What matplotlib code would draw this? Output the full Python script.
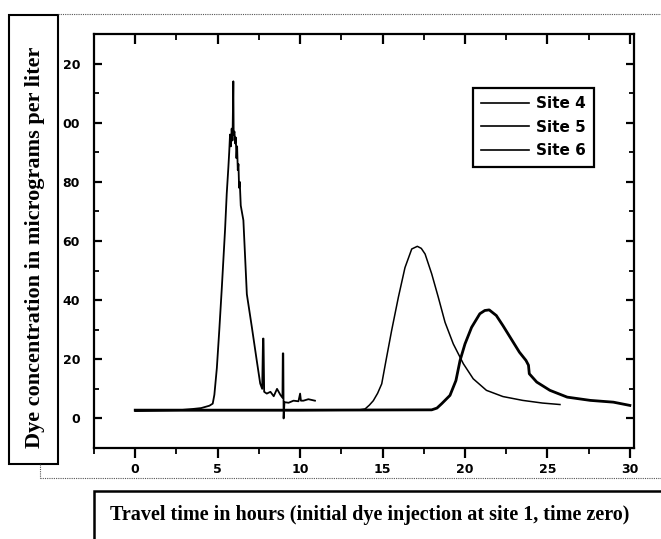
import matplotlib
matplotlib.use("Agg")
import matplotlib.pyplot as plt
from matplotlib.patches import Rectangle
from matplotlib.lines import Line2D
from matplotlib.ticker import MultipleLocator, FixedLocator

# ---------------- data ----------------
site4_x = [0, 2.7, 3.5, 4.0, 4.5, 4.7, 4.8, 4.95, 5.1, 5.25, 5.45, 5.55, 5.65, 5.7, 5.75, 5.8, 5.85,
           5.9, 5.95, 5.97, 6.02, 6.06, 6.1, 6.14, 6.18, 6.22, 6.26, 6.3, 6.34, 6.4, 6.56, 6.77, 7.07,
           7.37, 7.58, 7.7, 7.75, 7.78, 7.82, 7.98, 8.2, 8.4, 8.6, 8.8, 8.93, 8.95, 8.98, 9.0, 9.05,
           9.3, 9.6, 9.9, 10.0, 10.05, 10.2, 10.5, 10.9]
site4_y = [2.5, 2.8, 3.2, 3.5, 4.3, 5.0, 8.0, 17, 30, 44, 64, 76, 85, 90, 96, 92, 98,
           94, 114, 96, 97, 93, 95, 88, 92, 84, 86, 78, 80, 72, 67, 42, 31,
           19.6, 11.8, 10, 27, 27, 9, 8.4, 9, 7.5, 10, 8, 7, 22, 22, 0, 5.5,
           5.3, 6, 5.8, 8.4, 6, 6, 6.5, 6]

site5_x = [0, 5, 10, 13.5, 13.94, 14.2, 14.44, 14.7, 14.95, 15.21, 15.55, 15.96, 16.36, 16.77, 17.11,
           17.35, 17.58, 17.98, 18.38, 18.79, 19.29, 19.9, 20.5, 21.3, 22.3, 23.5, 24.7, 25.76]
site5_y = [2.7, 2.7, 2.7, 2.8, 3.2, 4.5, 6, 8.5, 11.7, 19.6, 29.7, 41, 51, 57.3, 58.2,
           57.5, 55.6, 48.9, 41, 32.5, 25.2, 18.5, 13.4, 9.5, 7.4, 6.1, 5.2, 4.7]

site6_x = [0, 10, 17.98, 18.3, 18.59, 19.09, 19.45, 19.7, 20.0, 20.4, 20.9, 21.2, 21.47, 21.9, 22.3,
           22.8, 23.3, 23.7, 23.85, 23.9, 24.35, 25.15, 26.2, 27.6, 29.0, 30.0]
site6_y = [2.8, 2.8, 2.9, 3.5, 5, 7.8, 12.8, 19.6, 25.2, 30.8, 35.4, 36.5, 36.7, 34.8, 31.4,
           26.9, 22.4, 19.6, 18, 15.1, 12.3, 9.5, 7.2, 6.1, 5.5, 4.4]

series_labels = ["Site 4", "Site 5", "Site 6"]
x_ticks = [0, 5, 10, 15, 20, 25, 30]
x_ticklabels = ["0", "5", "10", "15", "20", "25", "30"]
y_ticks = [0, 20, 40, 60, 80, 100, 120]
y_ticklabels = ["0", "20", "40", "60", "80", "00", "20"]
x_title = "Travel time in hours (initial dye injection at site 1, time zero)"
y_title = "Dye concentration in micrograms per liter"

# ---------------- figure ----------------
W, H = 661, 539
fig = plt.figure(figsize=(W / 100, H / 100), dpi=100)


def fx(x):
    return x / W


def fy(y):
    return 1 - y / H


ax_l, ax_r, ax_t, ax_b = 94, 634, 34, 448
ax = fig.add_axes([fx(ax_l), fy(ax_b), (ax_r - ax_l) / W, (ax_b - ax_t) / H])

ax.plot(site4_x, site4_y, color="black", lw=1.3, label=series_labels[0])
ax.plot(site5_x, site5_y, color="black", lw=1.1, label=series_labels[1])
ax.plot(site6_x, site6_y, color="black", lw=2.0, label=series_labels[2])

ax.set_xlim(-2.5, 30.25)
ax.set_ylim(-10, 130)

ax.xaxis.set_major_locator(FixedLocator(x_ticks))
ax.xaxis.set_minor_locator(MultipleLocator(2.5))
ax.yaxis.set_major_locator(FixedLocator(y_ticks))
ax.yaxis.set_minor_locator(MultipleLocator(10))
ax.set_xticklabels(x_ticklabels)
ax.set_yticklabels(y_ticklabels)

for s in ax.spines.values():
    s.set_linewidth(1.6)

ax.tick_params(axis="x", which="both", bottom=True, top=True, direction="out")
ax.tick_params(axis="x", which="major", length=7, width=1.6, pad=4, labelsize=9)
ax.tick_params(axis="x", which="minor", length=4, width=1.3)
ax.tick_params(axis="y", which="both", left=True, right=True, direction="in")
ax.tick_params(axis="y", which="major", length=6, width=1.6, pad=10, labelsize=9)
ax.tick_params(axis="y", which="minor", length=3.5, width=1.3)
# top ticks point inward
for t in ax.xaxis.get_major_ticks() + ax.xaxis.get_minor_ticks():
    t.tick2line.set_marker(3)
for lab in ax.get_xticklabels() + ax.get_yticklabels():
    lab.set_fontweight("bold")
    lab.set_family("DejaVu Sans")

leg = ax.legend(loc="upper left", bbox_to_anchor=((473 - ax_l) / (ax_r - ax_l), 1 - (88 - ax_t) / (ax_b - ax_t)),
                frameon=True, fancybox=False, edgecolor="black", handlelength=3.1,
                prop={"weight": "bold", "size": 11, "family": "DejaVu Sans"},
                borderpad=0.55, labelspacing=0.55, handletextpad=0.45, borderaxespad=0)
leg.get_frame().set_linewidth(1.6)
leg.get_frame().set_alpha(1)
for h in leg.get_lines():
    h.set_linewidth(1.2)

# ---------------- outer boxes ----------------
serif = ["Liberation Serif", "DejaVu Serif"]
fig.add_artist(Rectangle((fx(9), fy(464)), (58 - 9) / W, (464 - 15) / H, transform=fig.transFigure,
                         fill=False, edgecolor="black", lw=1.5))
fig.text(fx(35), fy(247), y_title, rotation=90, ha="center", va="center",
         fontsize=16, fontweight="bold", family=serif)

fig.add_artist(Rectangle((fx(94), fy(600)), (760 - 94) / W, (600 - 491) / H, transform=fig.transFigure,
                         fill=False, edgecolor="black", lw=1.8, clip_on=False))
fig.text(fx(110), fy(515), x_title, ha="left", va="center",
         fontsize=14.5, fontweight="bold", family=serif)

dot = dict(color="#555555", lw=0.8, linestyle=(0, (1, 1)), transform=fig.transFigure)
fig.add_artist(Line2D([fx(58), fx(661)], [fy(14), fy(14)], **dot))
fig.add_artist(Line2D([fx(40), fx(661)], [fy(478), fy(478)], **dot))
fig.add_artist(Line2D([fx(40), fx(40)], [fy(464), fy(478)], **dot))

fig.savefig("out.png", dpi=100)
